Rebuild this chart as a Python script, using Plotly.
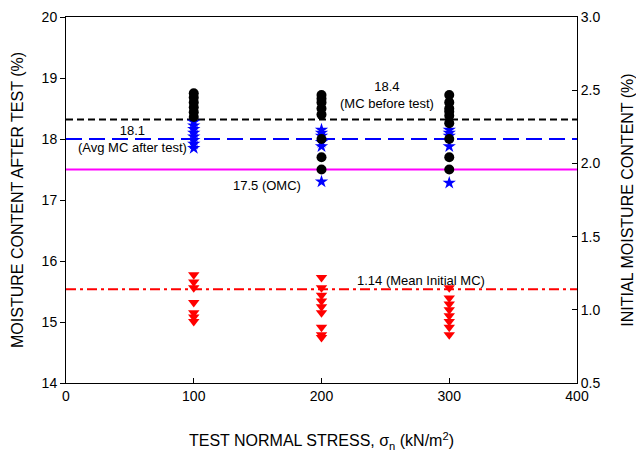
import plotly.graph_objects as go

# Data
stress = [100, 200, 300]
mc_after_circles = {
    100: [18.75, 18.68, 18.60, 18.52, 18.44, 18.36],
    200: [18.72, 18.66, 18.60, 18.50, 18.40, 18.00, 17.70, 17.50],
    300: [18.72, 18.60, 18.50, 18.45, 18.38, 18.26, 18.00, 17.70, 17.50],
}
mc_after_stars = {
    100: [18.28, 18.22, 18.16, 18.10, 18.04, 17.98, 17.92, 17.85],
    200: [18.15, 18.10, 18.05, 17.95, 17.88, 17.30],
    300: [18.15, 18.10, 18.05, 17.88, 17.28],
}
initial_mc = {
    100: [1.24, 1.19, 1.15, 1.05, 0.98, 0.95, 0.92],
    200: [1.22, 1.15, 1.10, 1.06, 1.02, 0.98, 0.88, 0.83, 0.81],
    300: [1.15, 1.08, 1.04, 1.00, 0.96, 0.92, 0.88, 0.83],
}
mc_before = 18.32
avg_mc_after = 18.0
omc = 17.5
mean_initial = 1.14
x_span = [0, 400]

FONT = "Liberation Sans, Arial, sans-serif"

fig = go.Figure()

def flat(d):
    xs, ys = [], []
    for k, v in d.items():
        xs += [k] * len(v)
        ys += v
    return xs, ys

# reference lines
fig.add_trace(go.Scatter(x=x_span, y=[mc_before] * 2, mode="lines",
                         line=dict(color="black", width=2, dash="7px,4px"), hoverinfo="skip"))
fig.add_trace(go.Scatter(x=x_span, y=[avg_mc_after] * 2, mode="lines",
                         line=dict(color="#0000FF", width=2, dash="16px,7px"), hoverinfo="skip"))
fig.add_trace(go.Scatter(x=x_span, y=[omc] * 2, mode="lines",
                         line=dict(color="#FF00FF", width=2), hoverinfo="skip"))
fig.add_trace(go.Scatter(x=x_span, y=[mean_initial] * 2, mode="lines", yaxis="y2",
                         line=dict(color="#FF0000", width=2, dash="10px,4px,3px,4px"), hoverinfo="skip"))

xs, ys = flat(mc_after_stars)
fig.add_trace(go.Scatter(x=xs, y=ys, mode="markers",
                         marker=dict(symbol="star", size=10, color="#0000FF", line=dict(width=0))))
xs, ys = flat(mc_after_circles)
fig.add_trace(go.Scatter(x=xs, y=ys, mode="markers",
                         marker=dict(symbol="circle", size=10, color="black", line=dict(width=0))))
xs, ys = flat(initial_mc)
fig.add_trace(go.Scatter(x=xs, y=ys, mode="markers", yaxis="y2",
                         marker=dict(symbol="triangle-down", size=10, color="#FF0000", line=dict(width=0))))

ann_font = dict(family=FONT, size=13, color="black")
fig.add_annotation(x=251, y=18.72, text="18.4<br>(MC before test)", showarrow=False, font=ann_font, align="center")
fig.add_annotation(x=52, y=18.0, text="18.1<br>(Avg MC after test)", showarrow=False, font=ann_font, align="center",
                   yanchor="middle")
fig.add_annotation(x=157, y=17.23, text="17.5 (OMC)", showarrow=False, font=ann_font)
fig.add_annotation(x=278, y=1.2, yref="y2", text="1.14 (Mean Initial MC)", showarrow=False, font=ann_font)

axis_common = dict(showline=True, linecolor="black", linewidth=1, showgrid=False, zeroline=False,
                   automargin=False,
                   tickfont=dict(family=FONT, size=14, color="black"), ticklen=5, tickcolor="black")

fig.update_layout(
    width=636, height=458,
    margin=dict(l=66, r=59, t=17, b=75),
    paper_bgcolor="white", plot_bgcolor="white",
    showlegend=False,
    font=dict(family=FONT, color="black"),
    xaxis=dict(range=[0, 400], dtick=100, ticks="inside", mirror=True,
               title=dict(text="TEST NORMAL STRESS, σ<sub>n</sub> (kN/m<sup>2</sup>)",
                          font=dict(family=FONT, size=16), standoff=32),
               **axis_common),
    yaxis=dict(range=[14, 20], dtick=1, ticks="outside",
               title=dict(text="MOISTURE CONTENT AFTER TEST (%)", font=dict(family=FONT, size=16), standoff=14),
               **axis_common),
    yaxis2=dict(range=[0.5, 3.0], dtick=0.5, tickformat=".1f", ticks="inside", overlaying="y", side="right",
                title=dict(text="INITIAL MOISTURE CONTENT (%)", font=dict(family=FONT, size=16), standoff=22),
                **axis_common),
)

fig.write_html("out.html")
